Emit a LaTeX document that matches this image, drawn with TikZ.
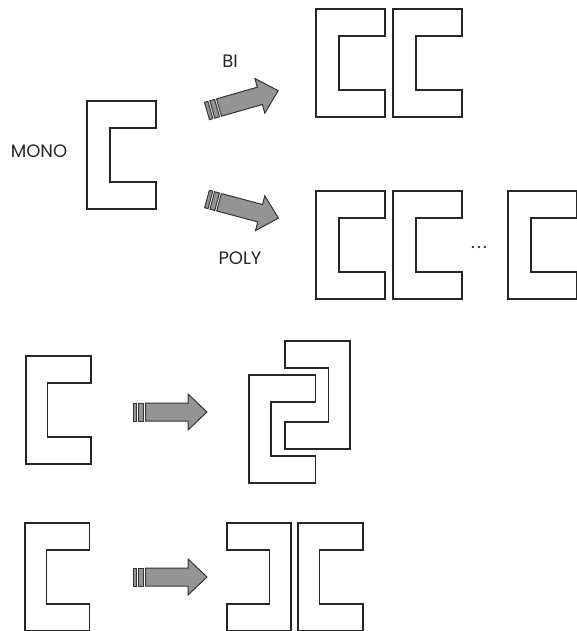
\documentclass[tikz,border=0pt]{standalone}
\usepackage{fontspec}
\setmainfont{Poppins}
\usetikzlibrary{positioning}

\begin{document}
\begin{tikzpicture}[x=0.75pt,y=-0.75pt,
  every node/.style={font=\fontsize{13.5}{15}\selectfont,text=black!85},
  plate/.style={draw=black!85,line width=1pt,fill=white,line join=miter},
  arrowbody/.style={draw=black!80,line width=0.75pt,fill=black!42},
  cshape/.pic={
   \path[plate] (0,0) -- (69,0) -- (69,27) -- (23,27) -- (23,81)
     -- (69,81) -- (69,108) -- (0,108) -- cycle;
  },
  stripedarrow/.pic={
   \path[arrowbody] (0,-9) rectangle (3.5,9);
   \path[arrowbody] (5.5,-9) rectangle (10.5,9);
   \path[arrowbody] (12.5,-9) -- (55,-9) -- (55,-18) -- (74,0)
     -- (55,18) -- (55,9) -- (12.5,9) -- cycle;
  }]
 \useasboundingbox (0,0) rectangle (577,631);

 % mono, bi and poly
 \node (mono) at (39,151) {MONO};
 \pic at (87,101) {cshape};
 \coordinate (biTail) at (207,111);
 \coordinate (polyTail) at (207,199);
 \pic[rotate=16] at (biTail) {stripedarrow};
 \pic[rotate=-15] at (polyTail) {stripedarrow};
 \node (bi) at (230,61) {BI};
 \node (poly) at (240,258) {POLY};
 \foreach \x in {316,393} {
  \pic at (\x,9) {cshape};
  \pic at (\x,191) {cshape};
 }
 \node (dots) at (479,247) {.\kern1.6pt.\kern1.6pt.};
 \pic at (508,191) {cshape};

 % interlocked pair
 \pic[xscale=0.94] at (26,356) {cshape};
 \coordinate (midTail) at (133,412);
 \pic at (midTail) {stripedarrow};
 \pic[xscale=-0.94] at (350,341) {cshape};
 \pic[xscale=0.96] at (249,375) {cshape};

 % facing pair
 \pic[xscale=0.93] at (25,523) {cshape};
 \coordinate (lowTail) at (133,577);
 \pic at (lowTail) {stripedarrow};
 \pic[xscale=-0.93] at (291,523) {cshape};
 \pic[xscale=0.94] at (298,523) {cshape};
\end{tikzpicture}
\end{document}
